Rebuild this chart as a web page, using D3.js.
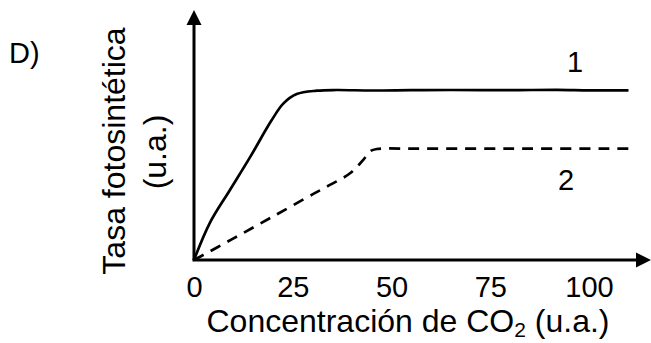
<!DOCTYPE html>
<html>
<head>
<meta charset="utf-8">
<script src="https://cdn.jsdelivr.net/npm/d3@7"></script>
<style>
  body { margin: 0; background: #fff; }
  svg text { font-family: "Liberation Sans", Arial, sans-serif; fill: #000; }
</style>
</head>
<body>
<svg id="chart" width="651" height="343"></svg>
<script>
// CO2 concentration (u.a.) vs photosynthetic rate (u.a.)
const xTicks = [0, 25, 50, 75, 100];
const curve1 = [
  [0, 0], [4.05, 2.2], [9.1, 4.12], [14.2, 6.05], [19.6, 8.2], [22.6, 9.2],
  [26, 9.76], [31.1, 9.96], [36, 10.0], [45, 9.97], [55, 9.99], [65, 10.0],
  [80, 9.99], [92, 10.01], [100, 9.98], [110, 9.98]
];
const curve2 = [
  [0, 0], [10, 1.27], [20, 2.56], [30, 3.86], [33.6, 4.31], [39.5, 5.1],
  [42.8, 5.88], [44.6, 6.4], [46.3, 6.53], [55, 6.55], [80, 6.55], [111, 6.55]
];
const seriesLabels = [
  { text: '1', x: 96.5, y: 11.05 },
  { text: '2', x: 94.2, y: 4.1 }
];

const svg = d3.select('#chart');

const x = d3.scaleLinear().domain([0, 100]).range([194, 589]);
const y = d3.scaleLinear().domain([0, 10]).range([260, 90]);

const defs = svg.append('defs');
defs.append('marker')
    .attr('id', 'arrow')
    .attr('viewBox', '0 0 16 16')
    .attr('refX', 0).attr('refY', 8)
    .attr('markerWidth', 16).attr('markerHeight', 16)
    .attr('markerUnits', 'userSpaceOnUse')
    .attr('orient', 'auto')
  .append('path')
    .attr('d', 'M0,0.5L15,8L0,15.5Z')
    .attr('fill', '#000');

// axes with arrow heads
svg.append('line')
    .attr('x1', x(0)).attr('y1', y(0))
    .attr('x2', x(0)).attr('y2', 25)
    .attr('stroke', '#000').attr('stroke-width', 3)
    .attr('marker-end', 'url(#arrow)');
svg.append('line')
    .attr('x1', x(0) - 1.5).attr('y1', y(0))
    .attr('x2', 636).attr('y2', y(0))
    .attr('stroke', '#000').attr('stroke-width', 3)
    .attr('marker-end', 'url(#arrow)');

const xAxis = svg.append('g')
    .attr('transform', `translate(0,${y(0)})`)
    .call(d3.axisBottom(x).tickValues(xTicks).tickSize(0).tickPadding(16));
xAxis.select('.domain').remove();
xAxis.selectAll('text')
    .attr('font-size', 29)
    .attr('font-family', '"Liberation Sans", Arial, sans-serif')
    .attr('fill', '#000');

const line = d3.line()
    .x((d) => x(d[0]))
    .y((d) => y(d[1]))
    .curve(d3.curveCatmullRom.alpha(0.5));

svg.append('path')
    .datum(curve1)
    .attr('d', line)
    .attr('fill', 'none')
    .attr('stroke', '#000')
    .attr('stroke-width', 2.7);

svg.append('path')
    .datum(curve2)
    .attr('d', line)
    .attr('fill', 'none')
    .attr('stroke', '#000')
    .attr('stroke-width', 2.7)
    .attr('stroke-dasharray', '11,8');

svg.selectAll('.series-label')
    .data(seriesLabels)
  .enter().append('text')
    .attr('class', 'series-label')
    .attr('x', (d) => x(d.x))
    .attr('y', (d) => y(d.y))
    .attr('text-anchor', 'middle')
    .attr('font-size', 29)
    .text((d) => d.text);

// titles
const xTitle = svg.append('text')
    .attr('x', 408)
    .attr('y', 332)
    .attr('text-anchor', 'middle')
    .attr('font-size', 32);
xTitle.append('tspan').text('Concentración de CO');
xTitle.append('tspan').attr('font-size', 21).attr('dy', 5).text('2');
xTitle.append('tspan').attr('dy', -5).text(' (u.a.)');

svg.append('text')
    .attr('transform', 'translate(125,151) rotate(-90)')
    .attr('text-anchor', 'middle')
    .attr('font-size', 32)
    .text('Tasa fotosintética');
svg.append('text')
    .attr('transform', 'translate(166,152) rotate(-90)')
    .attr('text-anchor', 'middle')
    .attr('font-size', 32)
    .text('(u.a.)');

svg.append('text')
    .attr('x', 9)
    .attr('y', 63)
    .attr('font-size', 29)
    .text('D)');
</script>
</body>
</html>
